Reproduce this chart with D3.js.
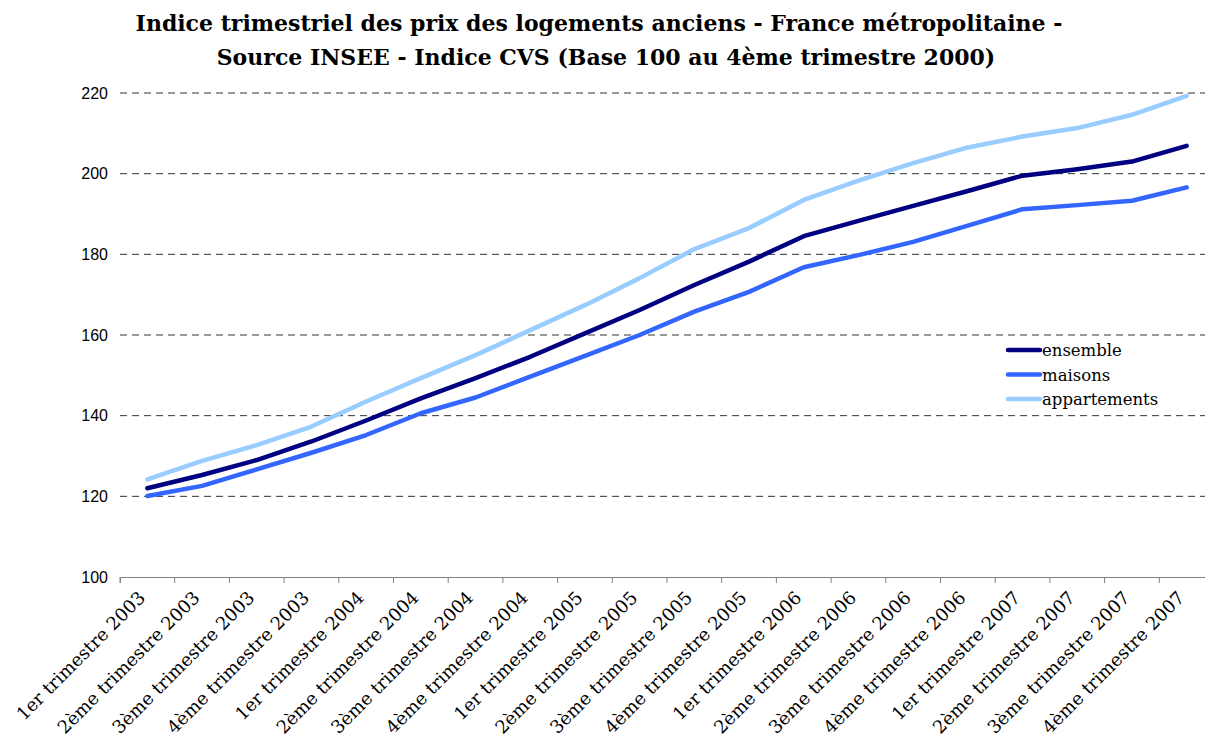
<!DOCTYPE html>
<html>
<head>
<meta charset="utf-8">
<title>Indice trimestriel des prix des logements anciens</title>
<style>
  body { margin: 0; background: #fff; }
  svg { display: block; }
</style>
</head>
<body>
<div id="chart"></div>
<script src="https://d3js.org/d3.v7.min.js"></script>
<script>
var quarters = [
  "1er trimestre 2003", "2ème trimestre 2003", "3ème trimestre 2003", "4ème trimestre 2003",
  "1er trimestre 2004", "2ème trimestre 2004", "3ème trimestre 2004", "4ème trimestre 2004",
  "1er trimestre 2005", "2ème trimestre 2005", "3ème trimestre 2005", "4ème trimestre 2005",
  "1er trimestre 2006", "2ème trimestre 2006", "3ème trimestre 2006", "4ème trimestre 2006",
  "1er trimestre 2007", "2ème trimestre 2007", "3ème trimestre 2007", "4ème trimestre 2007"
];
var ensemble = [122.0, 125.3, 129.0, 133.6, 138.8, 144.3, 149.3, 154.6, 160.4, 166.2,
                172.4, 178.2, 184.5, 188.3, 192.0, 195.7, 199.5, 201.1, 203.0, 206.9];
var maisons = [120.1, 122.6, 126.7, 130.8, 135.2, 140.6, 144.5, 149.7, 154.8, 160.0,
               165.8, 170.7, 176.8, 179.8, 183.1, 187.1, 191.2, 192.2, 193.3, 196.6];
var appartements = [124.2, 128.8, 132.7, 137.3, 143.5, 149.3, 155.0, 161.2, 167.4, 174.1,
                    181.3, 186.5, 193.5, 198.3, 202.6, 206.5, 209.2, 211.3, 214.6, 219.3];
var seriesNames = ["ensemble", "maisons", "appartements"];
var yTicks = [100, 120, 140, 160, 180, 200, 220];

var width = 1205, height = 744;
var colors = { ensemble: "#000080", maisons: "#3366ff", appartements: "#99ccff" };
var values = { ensemble: ensemble, maisons: maisons, appartements: appartements };

var svg = d3.select("#chart").append("svg")
  .attr("width", width)
  .attr("height", height);

var x = d3.scaleBand().domain(quarters).range([120, 1214]);
var y = d3.scaleLinear().domain([100, 220]).range([577, 93]);

// titre
var title = svg.append("text")
  .attr("text-anchor", "middle")
  .style("font-family", "'DejaVu Serif', serif")
  .style("font-weight", "bold")
  .style("font-size", "22px");
title.append("tspan").attr("x", 599).attr("y", 31)
  .text("Indice trimestriel des prix des logements anciens - France métropolitaine -");
title.append("tspan").attr("x", 606).attr("y", 65)
  .text("Source INSEE - Indice CVS (Base 100 au 4ème trimestre 2000)");

// grille
svg.append("g")
  .selectAll("line")
  .data(yTicks.filter(function(d) { return d > 100; }))
  .enter().append("line")
  .attr("x1", 120).attr("x2", 1205)
  .attr("y1", function(d) { return y(d); })
  .attr("y2", function(d) { return y(d); })
  .attr("stroke", "#333")
  .attr("stroke-width", 1)
  .attr("stroke-dasharray", "7,5");

// axe y (labels seulement)
var yAxis = svg.append("g")
  .attr("transform", "translate(120,0)")
  .call(d3.axisLeft(y).tickValues(yTicks).tickSize(0).tickPadding(12));
yAxis.select(".domain").remove();
yAxis.selectAll("text")
  .style("font-family", "'Liberation Sans', Arial, sans-serif")
  .style("font-size", "16px")
  .attr("fill", "#000");

// axe x
var xAxis = svg.append("g")
  .attr("transform", "translate(0,577)")
  .call(d3.axisBottom(x).tickSize(6).tickSizeOuter(6).tickFormat(""));
xAxis.select(".domain").attr("stroke", "#808080");
xAxis.selectAll(".tick line")
  .attr("stroke", "#808080")
  .attr("transform", "translate(" + (-x.bandwidth() / 2) + ",0)");

svg.append("g")
  .selectAll("text")
  .data(quarters)
  .enter().append("text")
  .attr("transform", function(d) {
    return "translate(" + (x(d) + x.bandwidth() / 2 - 10) + ",590) rotate(-45)";
  })
  .attr("text-anchor", "end")
  .attr("dy", "0.7em")
  .style("font-family", "'DejaVu Serif', serif")
  .style("font-size", "18px")
  .text(function(d) { return d; });

// courbes
var line = d3.line()
  .x(function(d, i) { return x(quarters[i]) + x.bandwidth() / 2; })
  .y(function(d) { return y(d); });

seriesNames.forEach(function(name) {
  svg.append("path")
    .datum(values[name])
    .attr("d", line)
    .attr("fill", "none")
    .attr("stroke", colors[name])
    .attr("stroke-width", 4.5)
    .attr("stroke-linejoin", "round")
    .attr("stroke-linecap", "round");
});

// légende
var legend = svg.append("g").attr("transform", "translate(1008,350)");
seriesNames.forEach(function(name, i) {
  var row = legend.append("g").attr("transform", "translate(0," + (i * 24.5) + ")");
  row.append("line")
    .attr("x1", 0).attr("x2", 32)
    .attr("stroke", colors[name])
    .attr("stroke-width", 4.5)
    .attr("stroke-linecap", "round");
  row.append("text")
    .attr("x", 34).attr("y", 6)
    .style("font-family", "'DejaVu Serif', serif")
    .style("font-size", "16.5px")
    .text(name);
});
</script>
</body>
</html>
